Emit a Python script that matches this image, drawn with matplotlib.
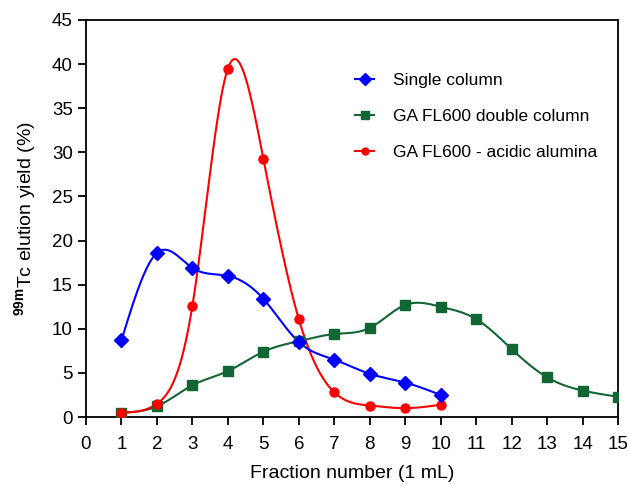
import numpy as np
import matplotlib
matplotlib.use("Agg")
import matplotlib.pyplot as plt
from matplotlib.lines import Line2D

plt.rcParams['font.family'] = ['Liberation Sans', 'DejaVu Sans']
plt.rcParams['mathtext.fontset'] = 'custom'
plt.rcParams['mathtext.rm'] = 'Liberation Sans'
plt.rcParams['mathtext.bf'] = 'Liberation Sans:bold'

# ---- data ----
single_x = [1, 2, 3, 4, 5, 6, 7, 8, 9, 10]
single_y = [8.7, 18.6, 16.9, 16.0, 13.4, 8.5, 6.5, 4.9, 3.9, 2.5]

double_x = [1, 2, 3, 4, 5, 6, 7, 8, 9, 10, 11, 12, 13, 14, 15]
double_y = [0.5, 1.2, 3.6, 5.2, 7.4, 8.6, 9.4, 10.1, 12.7, 12.5, 11.1, 7.7, 4.5, 3.0, 2.3]

acid_x = [1, 2, 3, 4, 5, 6, 7, 8, 9, 10]
acid_y = [0.5, 1.5, 12.6, 39.5, 29.3, 11.1, 2.8, 1.3, 1.0, 1.4]

labels = ["Single column", "GA FL600 double column", "GA FL600 - acidic alumina"]
xticks = list(range(0, 16))
yticks = list(range(0, 46, 5))


def natural_spline(x, y, n=40):
    x = np.asarray(x, float)
    y = np.asarray(y, float)
    m = len(x)
    h = np.diff(x)
    A = np.zeros((m, m))
    b = np.zeros(m)
    A[0, 0] = 1
    A[-1, -1] = 1
    for i in range(1, m - 1):
        A[i, i - 1] = h[i - 1]
        A[i, i] = 2 * (h[i - 1] + h[i])
        A[i, i + 1] = h[i]
        b[i] = 3 * ((y[i + 1] - y[i]) / h[i] - (y[i] - y[i - 1]) / h[i - 1])
    c = np.linalg.solve(A, b)
    xs, ys = [], []
    for i in range(m - 1):
        bi = (y[i + 1] - y[i]) / h[i] - h[i] * (2 * c[i] + c[i + 1]) / 3
        di = (c[i + 1] - c[i]) / (3 * h[i])
        t = np.linspace(0, h[i], n, endpoint=(i == m - 2))
        xs.append(x[i] + t)
        ys.append(y[i] + bi * t + c[i] * t ** 2 + di * t ** 3)
    return np.concatenate(xs), np.concatenate(ys)


fig = plt.figure(figsize=(6.3, 4.84), dpi=100)
ax = fig.add_axes([86 / 630, 1 - 417 / 484, 532 / 630, 397 / 484])

blue = '#0000FF'
green = '#116633'
red = '#FF0000'
lw = 1.5

for xv, yv, col, mk, ms, lab in [
    (double_x, double_y, green, 's', 7, labels[1]),
    (acid_x, acid_y, red, 'o', 6.5, labels[2]),
    (single_x, single_y, blue, 'D', 7, labels[0]),
]:
    sx, sy = natural_spline(xv, yv)
    ax.plot(sx, sy, color=col, lw=lw, zorder=2)
    ax.plot(xv, yv, ls='none', marker=mk, ms=ms, color=col, zorder=3)

handles = [
    Line2D([], [], color=blue, lw=lw, marker='D', ms=6),
    Line2D([], [], color=green, lw=lw, marker='s', ms=5.5),
    Line2D([], [], color=red, lw=lw, marker='o', ms=5),
]
ax.legend(handles, labels, loc='upper left', bbox_to_anchor=(0.477, 0.907),
          frameon=False, fontsize=12.5, handlelength=1.1, handletextpad=1.05,
          labelspacing=1.2)

ax.set_xlim(0, 15)
ax.set_ylim(0, 45)
ax.set_xticks(xticks)
ax.set_yticks(yticks)
ax.tick_params(axis='both', direction='out', length=5.5, width=1.3, labelsize=13.5,
               top=False, right=False)
ax.tick_params(axis='x', pad=8)
ax.tick_params(axis='y', pad=4)
for s in ax.spines.values():
    s.set_linewidth(1.3)

ax.set_xlabel('Fraction number (1 mL)', fontsize=14, labelpad=9)
ax.set_ylabel(r'$^{\mathbf{99m}}$Tc elution yield (%)', fontsize=14, labelpad=9)

fig.savefig('out.png', dpi=100)
